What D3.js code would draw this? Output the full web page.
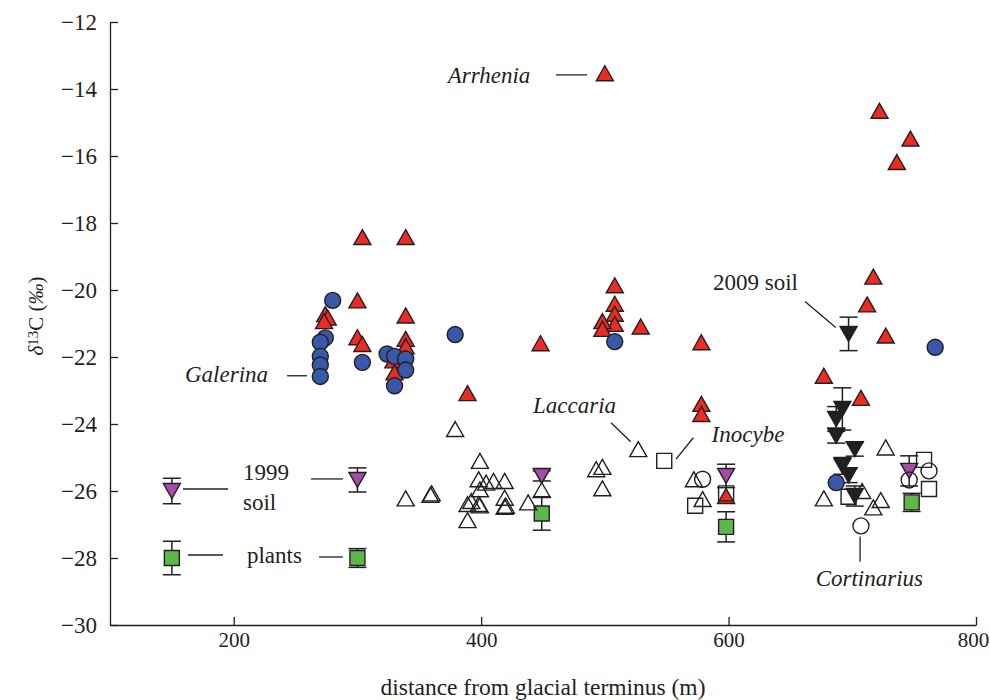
<!DOCTYPE html>
<html>
<head>
<meta charset="utf-8">
<script src="https://cdn.jsdelivr.net/npm/d3@7"></script>
<style>
body { margin: 0; background: #fff; }
text { font-family: "Liberation Serif", "Times New Roman", serif; fill: #231f20; }
</style>
</head>
<body>
<div id="chart"></div>
<script>
// distance (m), d13C
var redTriangles = [
    [500, -13.53], [722, -14.65], [747, -15.48], [736, -16.18],
    [304, -18.42], [339, -18.42],
    [300, -20.31], [339, -20.76], [274, -20.72], [276, -20.82], [273, -20.93],
    [300, -21.41], [304, -21.61], [339, -21.46], [339, -21.68],
    [329, -22.1], [330, -22.46], [389, -23.08],
    [508, -19.86], [508, -20.41], [508, -20.71], [508, -21.01], [498, -20.93], [498, -21.16],
    [529, -21.09], [448, -21.59], [578, -21.56],
    [717, -19.6], [712, -20.43], [727, -21.36], [677, -22.56], [707, -23.22],
    [578, -23.4], [578, -23.7], [598, -26.15]
];

var blueCircles = [
    [280, -20.31], [274, -21.43], [270, -21.56], [270, -21.98], [270, -22.24], [270, -22.58],
    [304, -22.16], [324, -21.91], [330, -21.98], [339, -22.06], [339, -22.39], [330, -22.86],
    [379, -21.33], [508, -21.54], [767, -21.71], [687, -25.75]
];

var openTriangles = [
    [379, -24.15], [399, -25.1], [398, -25.65], [404, -25.75], [410, -25.7], [419, -25.7],
    [399, -25.95], [339, -26.22], [359, -26.11], [360, -26.07], [389, -26.39], [392, -26.3],
    [398, -26.39], [399, -26.43], [419, -26.2], [419, -26.47], [420, -26.44], [438, -26.34],
    [389, -26.87], [449, -25.97], [527, -24.75], [493, -25.35], [498, -25.28], [498, -25.92],
    [572, -25.65], [579, -26.24], [677, -26.22], [708, -26.0], [723, -26.27], [717, -26.49],
    [727, -24.7]
];

var openCircles = [[579, -25.65], [746, -25.67], [762, -25.4], [707, -27.04]];

var openSquares = [[548, -25.1], [573, -26.44], [598, -26.07], [697, -26.17], [758, -25.07], [762, -25.94]];

// distance, mean, error
var soil1999 = [[150, -26.0, 0.38], [300, -25.67, 0.36], [449, -25.55, 0.15], [598, -25.55, 0.35], [746, -25.4, 0.45]];

var soil2009 = [
    [697, -21.31, 0.5], [692, -23.55, 0.63], [687, -23.85, 0.37], [687, -24.35, 0.22],
    [702, -24.75, 0.21], [692, -25.25, 0.25], [697, -25.53, 0.22], [702, -26.15, 0.3]
];

var plants = [[150, -28.0, 0.5], [300, -28.0, 0.28], [449, -26.67, 0.5], [598, -27.07, 0.45], [748, -26.34, 0.27]];

var xTicks = [200, 400, 600, 800];
var yTicks = d3.range(-30, -11, 2);

var labels = [
    { text: "Arrhenia", italic: true, x: 373, y: -13.82 },
    { text: "Galerina", italic: true, x: 160.6, y: -22.75 },
    { text: "1999", italic: false, x: 207.5, y: -25.67 },
    { text: "soil", italic: false, x: 207.5, y: -26.57 },
    { text: "plants", italic: false, x: 210.7, y: -28.15 },
    { text: "Laccaria", italic: true, x: 441.9, y: -23.67 },
    { text: "Inocybe", italic: true, x: 586.3, y: -24.53 },
    { text: "2009 soil", italic: false, x: 587.4, y: -20.0 },
    { text: "Cortinarius", italic: true, x: 670.4, y: -28.84 }
];

var leaders = [
    [460.5, -13.58, 485.6, -13.58],
    [243.1, -22.56, 259.2, -22.56],
    [159, -25.94, 195.4, -25.94],
    [262.5, -25.64, 288.3, -25.64],
    [163, -27.91, 191.3, -27.91],
    [269, -27.97, 288.3, -27.97],
    [505, -23.96, 520.9, -24.53],
    [571.5, -24.41, 557.5, -25.05],
    [661.8, -20.34, 686.6, -21.12],
    [706.3, -27.36, 706.3, -28.11]
];

var width = 990,
    height = 700;

var ink = "#231f20";

var x = d3.scaleLinear()
    .domain([100, 800])
    .range([110, 976]);

var y = d3.scaleLinear()
    .domain([-30, -12])
    .range([625, 22]);

var svg = d3.select("#chart")
    .append("svg")
    .attr("width", width)
    .attr("height", height);

// axes
var yAxis = d3.axisLeft(y)
    .tickValues(yTicks)
    .tickSizeInner(-8)
    .tickSizeOuter(0)
    .tickPadding(13);

var xAxis = d3.axisBottom(x)
    .tickValues(xTicks)
    .tickSizeInner(-8)
    .tickSizeOuter(0)
    .tickPadding(7);

var gy = svg.append("g")
    .attr("transform", "translate(" + x(100) + ",0)")
    .call(yAxis);

var gx = svg.append("g")
    .attr("transform", "translate(0," + y(-30) + ")")
    .call(xAxis);

[gx, gy].forEach(function(g) {
    g.attr("font-family", null).attr("font-size", null);
    g.selectAll("path, line").attr("stroke", ink).attr("stroke-width", 1.3);
    g.selectAll("text").style("font-size", "23px").attr("fill", ink);
});
gx.selectAll("text").style("font-size", "21px");
// keep the last label inside the frame
gx.selectAll(".tick").filter(d => d === 800).select("text").attr("dx", -3);

svg.append("text")
    .attr("x", (x(100) + x(800)) / 2)
    .attr("y", 695)
    .attr("text-anchor", "middle")
    .style("font-size", "23.5px")
    .text("distance from glacial terminus (m)");

var ytitle = svg.append("text")
    .attr("transform", "translate(43," + 316 + ") rotate(-90)")
    .attr("text-anchor", "middle")
    .style("font-size", "21px");
ytitle.append("tspan").style("font-style", "italic").text("δ");
ytitle.append("tspan").style("font-size", "15px").attr("dy", -5).text("13");
ytitle.append("tspan").attr("dy", 5).text("C (");
ytitle.append("tspan").style("font-style", "italic").text("‰");
ytitle.append("tspan").text(")");

// marker shapes, centred on their bounding box
var triUp = {
    draw: function(ctx, size) {
        var w = Math.sqrt(size), h = w * 0.88;
        ctx.moveTo(0, -h / 2);
        ctx.lineTo(w / 2, h / 2);
        ctx.lineTo(-w / 2, h / 2);
        ctx.closePath();
    }
};
var triDown = {
    draw: function(ctx, size) {
        var w = Math.sqrt(size), h = w * 0.88;
        ctx.moveTo(-w / 2, -h / 2);
        ctx.lineTo(w / 2, -h / 2);
        ctx.lineTo(0, h / 2);
        ctx.closePath();
    }
};
var box = {
    draw: function(ctx, size) {
        var s = Math.sqrt(size);
        ctx.rect(-s / 2, -s / 2, s, s);
    }
};
var ring = {
    draw: function(ctx, size) {
        var r = Math.sqrt(size) / 2;
        ctx.moveTo(r, 0);
        ctx.arc(0, 0, r, 0, 2 * Math.PI);
    }
};

function drawErrors(data) {
    var g = svg.append("g")
        .attr("stroke", ink)
        .attr("stroke-width", 1.5);
    var eb = g.selectAll("g")
        .data(data)
        .enter()
        .append("g");
    eb.append("line")
        .attr("x1", d => x(d[0]))
        .attr("x2", d => x(d[0]))
        .attr("y1", d => y(d[1] + d[2]))
        .attr("y2", d => y(d[1] - d[2]));
    eb.append("line")
        .attr("x1", d => x(d[0]) - 9)
        .attr("x2", d => x(d[0]) + 9)
        .attr("y1", d => y(d[1] + d[2]))
        .attr("y2", d => y(d[1] + d[2]));
    eb.append("line")
        .attr("x1", d => x(d[0]) - 9)
        .attr("x2", d => x(d[0]) + 9)
        .attr("y1", d => y(d[1] - d[2]))
        .attr("y2", d => y(d[1] - d[2]));
}

function drawMarks(data, type, size, fill) {
    svg.append("g")
        .selectAll("path")
        .data(data)
        .enter()
        .append("path")
        .attr("transform", d => "translate(" + x(d[0]) + "," + y(d[1]) + ")")
        .attr("d", d3.symbol().type(type).size(size))
        .attr("fill", fill)
        .attr("stroke", ink)
        .attr("stroke-width", 1.4);
}

drawErrors(soil1999);
drawErrors(soil2009);
drawErrors(plants);

drawMarks(redTriangles, triUp, 290, "#ec2b24");
drawMarks(blueCircles, ring, 256, "#3a58a8");
drawMarks(soil1999, triDown, 290, "#a24ea6");
drawMarks(soil2009, triDown, 290, "#231f20");
drawMarks(plants, box, 225, "#5cb848");
drawMarks(openTriangles, triUp, 290, "none");
drawMarks(openSquares, box, 225, "none");
drawMarks(openCircles, ring, 256, "none");

// annotations
svg.append("g")
    .selectAll("line")
    .data(leaders)
    .enter()
    .append("line")
    .attr("x1", d => x(d[0]))
    .attr("y1", d => y(d[1]))
    .attr("x2", d => x(d[2]))
    .attr("y2", d => y(d[3]))
    .attr("stroke", ink)
    .attr("stroke-width", 1.3);

svg.append("g")
    .selectAll("text")
    .data(labels)
    .enter()
    .append("text")
    .attr("x", d => x(d.x))
    .attr("y", d => y(d.y))
    .style("font-size", "23px")
    .style("font-style", d => d.italic ? "italic" : "normal")
    .text(d => d.text);
</script>
</body>
</html>
